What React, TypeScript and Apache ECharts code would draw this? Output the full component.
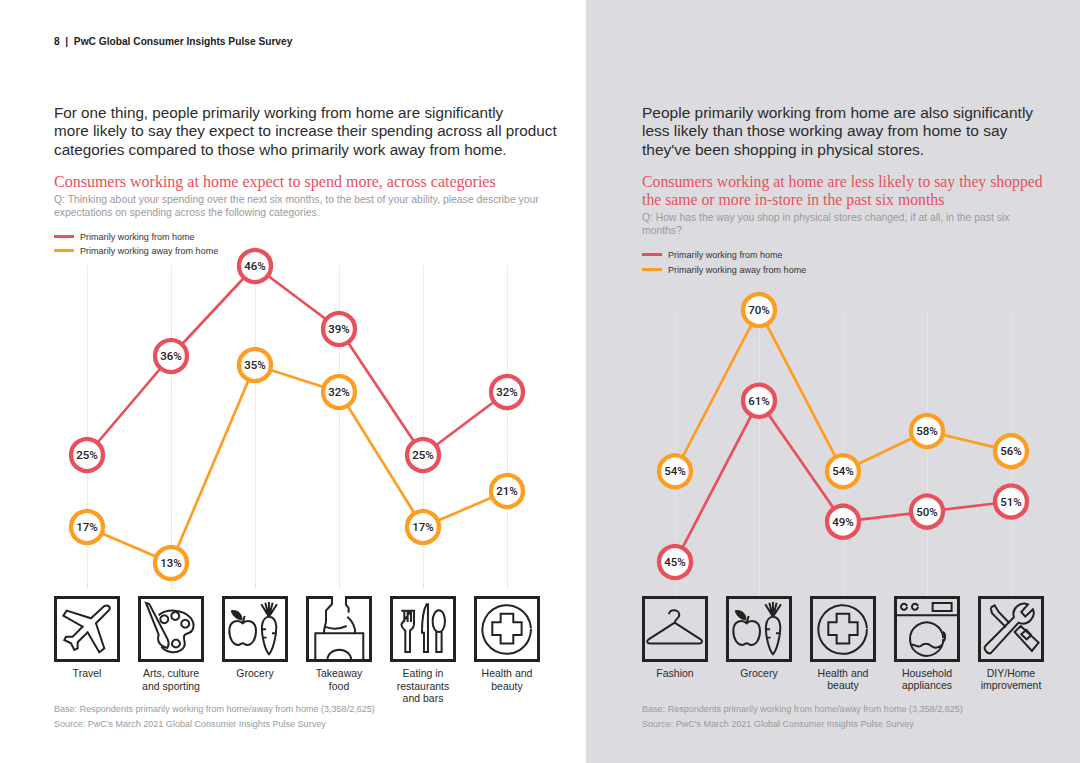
import React, { useEffect, useRef } from "react";
import * as echarts from "echarts";

const RED = "#e8505b";
const ORANGE = "#fd9d21";
const INK = "#2b2b2b";
const GREY = "#9a9a9e";

const seriesHome = "Primarily working from home";
const seriesAway = "Primarily working away from home";

const leftCategories = ["Travel", "Arts, culture\nand sporting", "Grocery", "Takeaway\nfood", "Eating in\nrestaurants\nand bars", "Health and\nbeauty"];
const leftHome = [25, 36, 46, 39, 25, 32];
const leftAway = [17, 13, 35, 32, 17, 21];

const rightCategories = ["Fashion", "Grocery", "Health and\nbeauty", "Household\nappliances", "DIY/Home\nimprovement"];
const rightHome = [45, 61, 49, 50, 51];
const rightAway = [54, 70, 54, 58, 56];

const headerText = "8  |  PwC Global Consumer Insights Pulse Survey";
const leftIntro = [
  "For one thing, people primarily working from home are significantly",
  "more likely to say they expect to increase their spending across all product",
  "categories compared to those who primarily work away from home.",
];
const rightIntro = [
  "People primarily working from home are also significantly",
  "less likely than those working away from home to say",
  "they've been shopping in physical stores.",
];
const leftHeading = ["Consumers working at home expect to spend more, across categories"];
const rightHeading = ["Consumers working at home are less likely to say they shopped", "the same or more in-store in the past six months"];
const leftQuestion = [
  "Q: Thinking about your spending over the next six months, to the best of your ability, please describe your",
  "expectations on spending across the following categories.",
];
const rightQuestion = [
  "Q: How has the way you shop in physical stores changed, if at all, in the past six",
  "months?",
];
const baseNote = "Base: Respondents primarily working from home/away from home (3,358/2,625)";
const sourceNote = "Source: PwC's March 2021 Global Consumer Insights Pulse Survey";

const iconPaths: Record<string, string> = {
  plane: "M151 30C161 25 171 32 166 42L126 82L151 157L136 169L101 109L71 139V157L61 162L51 142L31 132L36 122L56 122L86 92L28 59L38 44L111 67Z",
  palette:
    "M24 21L34 24L88 128C94 140 92 150 88 156C72 152 60 142 60 128L62 116ZM62 58C85 38 135 38 158 66C175 88 165 108 150 112C136 116 136 122 140 138C144 160 120 172 98 168C86 166 78 162 70 152M79 58A12 12 0 1 1 78.9 58M112 48A12 12 0 1 1 111.9 48M142 71A12 12 0 1 1 141.9 71M114 131A12 12 0 1 1 113.9 131",
  grocery:
    "M62 82C50 70 22 72 22 105C22 130 35 148 50 147C56 146 58 142 62 142C66 142 68 146 74 147C90 148 102 130 102 105C102 72 74 70 62 82ZM62 82L68 60M141 175C130 165 118 120 120 90C122 70 132 62 141 62C150 62 162 70 163 90C164 120 152 165 141 175ZM141 62L118 25M141 62L130 20M141 62V18M141 62L152 20M141 62L165 25M121 100H132M121 125H134M162 112H150",
  leaf: "M60 72C40 70 30 55 28 44C45 42 60 50 60 72Z",
  takeaway:
    "M78 0V24L60 44V78C58 88 54 96 54 112M120 0V26L128 36V50M124 62C140 76 148 92 148 112M56 92C76 100 100 100 122 90M28 195V112H172V195M64 195C64 150 136 150 136 195",
  cutlery:
    "M34 44H43V78M43 44H53V78M53 44H63V78M63 44H72V85C72 95 66 100 60 104V168H46V104C42 100 34 95 34 85ZM110 25C98 45 96 80 96 110H102V168H114V25ZM139 106V168H155V106M147 43C158 43 165 58 165 76C165 94 158 108 147 108C136 108 128 94 128 76C128 58 136 43 147 43Z",
  health:
    "M171 98A73 73 0 1 1 170.9 96M80 53H118V79H143V117H118V143H80V117H55V79H80Z",
  hanger:
    "M81 55C82 38 112 38 112 57C112 68 98 70 98 80L20 130C12 136 16 143 24 143H172C180 143 184 136 176 130L98 80",
  washer:
    "M3 58H195M39 33A9 9 0 1 1 38.9 31M72 33A9 9 0 1 1 71.9 31M116 21H173V45H116ZM148 128A50 50 0 1 1 147.9 126M146 108C156 112 156 132 146 138M50 148C60 140 70 158 80 150S100 140 112 150S135 155 146 146",
  tools:
    "M22 150L108 64C100 40 125 15 150 25L130 48L142 62L165 40C175 62 150 92 122 80L40 170C30 178 15 160 22 150ZM38 35L50 28L62 48L95 82M84 94L52 62L42 52L38 35M110 108L128 90L182 140L162 165ZM130 115L145 102L160 118L146 130Z",
};
const leftIcons = [["plane"], ["palette"], ["grocery", "leaf"], ["takeaway"], ["cutlery"], ["health"]];
const rightIcons = [["hanger"], ["grocery", "leaf"], ["health"], ["washer"], ["tools"]];

Object.entries(iconPaths).forEach(([name, d]) => {
  echarts.graphic.registerShape("icon_" + name, echarts.graphic.extendPath(d, {}));
});

function lines(list: string[], x: number, y0: number, step: number, style: any) {
  return list.map((text, i) => ({
    type: "text",
    x,
    y: y0 + i * step,
    z: 5,
    style: { text, textVerticalAlign: "middle", verticalAlign: "middle", ...style },
  }));
}

function iconGroup(names: string[], cx: number, top: number) {
  const x = cx - 33;
  const gap =
    names[0] === "takeaway"
      ? [{ type: "rect", z: 5, shape: { x: x + 27, y: top - 1, width: 12, height: 5 }, style: { fill: "#ffffff" } }]
      : [];
  return [
    {
      type: "rect",
      z: 5,
      shape: { x: x + 1.5, y: top + 1.5, width: 63, height: 63 },
      style: { fill: "none", stroke: "#222", lineWidth: 3 },
    },
    ...gap,
    ...names.map((n) => ({
      type: "icon_" + n,
      x,
      y: top,
      scaleX: 1 / 3,
      scaleY: 1 / 3,
      z: 5,
      style: n === "leaf" ? { fill: "#222", stroke: "#222", lineWidth: 3 } : { fill: "none", stroke: "#222", lineWidth: 6 },
    })),
  ];
}

function lineSeries(name: string, data: number[], color: string, idx: number) {
  return {
    type: "line",
    name,
    data,
    xAxisIndex: idx,
    yAxisIndex: idx,
    symbol: "circle",
    symbolSize: 32,
    showAllSymbol: true,
    lineStyle: { color, width: 2.7 },
    itemStyle: { color: "#ffffff", borderColor: color, borderWidth: 4.3, opacity: 1 },
    label: {
      show: true,
      position: "inside",
      formatter: "{c}%",
      color: "#222",
      fontFamily: "Roboto",
      fontSize: 11.5,
      fontWeight: 500,
    },
    emphasis: { disabled: true },
    z: name === seriesHome ? 3 : 4,
  };
}

function xAxis(data: string[], gridIndex: number, margin: number, dot: string) {
  return {
    type: "category",
    gridIndex,
    data,
    boundaryGap: false,
    axisLine: { show: false },
    axisTick: { show: false },
    splitLine: { show: true, lineStyle: { color: dot, type: "dotted", width: 1 } },
    axisLabel: {
      interval: 0,
      margin,
      color: "#2b2b2b",
      fontFamily: "Liberation Sans",
      fontSize: 10.5,
      lineHeight: 12.5,
      verticalAlign: "top",
      showMinLabel: true,
      showMaxLabel: true,
    },
  };
}

function legend(left: number, top: number, itemGap: number) {
  return {
    left,
    top,
    orient: "vertical",
    itemWidth: 20,
    itemHeight: 3,
    itemGap,
    icon: "rect",
    selectedMode: false,
    padding: 0,
    textStyle: { color: "#333", fontFamily: "Liberation Sans", fontSize: 9.05, padding: [0, 0, 0, 1] },
    data: [
      { name: seriesHome, icon: "rect", itemStyle: { color: RED, borderWidth: 0 } },
      { name: seriesAway, icon: "rect", itemStyle: { color: ORANGE, borderWidth: 0 } },
    ],
  };
}

export default function App() {
  const ref = useRef<HTMLDivElement>(null);
  useEffect(() => {
    document.body.style.margin = "0";
    const chart = echarts.init(ref.current!, undefined, { renderer: "svg", width: 1080, height: 763 });
    const sans = "Liberation Sans";
    const serif = "Liberation Serif";
    const graphic: any[] = [
      { type: "rect", z: -10, shape: { x: 586, y: 0, width: 494, height: 763 }, style: { fill: "#dcdce0" } },
      ...lines([headerText], 54, 41, 0, { fill: "#222", font: `bold 10.2px ${sans}` }),
      ...lines(leftIntro, 54, 112.4, 18.3, { fill: INK, font: `15.25px ${sans}` }),
      ...lines(rightIntro, 642, 112.4, 18.3, { fill: INK, font: `15.5px ${sans}` }),
      ...lines(leftHeading, 54, 181, 0, { fill: RED, font: `16px ${serif}` }),
      ...lines(rightHeading, 642, 181, 18.5, { fill: RED, font: `15.75px ${serif}` }),
      ...lines(leftQuestion, 54, 199, 13, { fill: GREY, font: `10.4px ${sans}` }),
      ...lines(rightQuestion, 642, 217, 13, { fill: GREY, font: `10.36px ${sans}` }),
      ...lines([baseNote, sourceNote], 54, 708.5, 15, { fill: GREY, font: `9.06px ${sans}` }),
      ...lines([baseNote, sourceNote], 642, 708.5, 15, { fill: GREY, font: `9.06px ${sans}` }),
      ...leftIcons.flatMap((names, i) => iconGroup(names, 87 + i * 84, 596)),
      ...rightIcons.flatMap((names, i) => iconGroup(names, 675 + i * 84, 596)),
    ];
    chart.setOption({
      animation: false,
      backgroundColor: "#ffffff",
      textStyle: { fontFamily: sans },
      tooltip: { show: false },
      grid: [
        { left: 87, top: 266, width: 420, height: 324 },
        { left: 675, top: 310, width: 336, height: 287.3 },
      ],
      xAxis: [xAxis(leftCategories, 0, 77, "#d6d6d8"), xAxis(rightCategories, 1, 69, "#f0f0f3")],
      yAxis: [
        { type: "value", gridIndex: 0, min: 10, max: 46, show: false, splitLine: { show: false } },
        { type: "value", gridIndex: 1, min: 41.5, max: 70, show: false, splitLine: { show: false } },
      ],
      legend: [legend(54, 232, 5), legend(642, 250, 6)],
      series: [
        lineSeries(seriesHome, leftHome, RED, 0),
        lineSeries(seriesAway, leftAway, ORANGE, 0),
        lineSeries(seriesHome, rightHome, RED, 1),
        lineSeries(seriesAway, rightAway, ORANGE, 1),
      ],
      graphic: { elements: graphic },
    });
    return () => chart.dispose();
  }, []);
  return <div ref={ref} style={{ position: "absolute", left: 0, top: 0, width: 1080, height: 763 }} />;
}
